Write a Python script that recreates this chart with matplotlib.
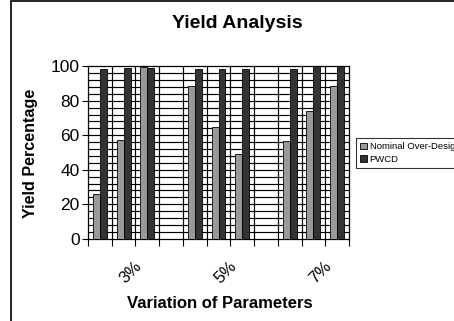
import numpy as np
import matplotlib
matplotlib.use("Agg")
import matplotlib.pyplot as plt
from matplotlib.patches import Rectangle
from matplotlib.transforms import ScaledTranslation

plt.rcParams['font.family'] = ['Liberation Sans', 'DejaVu Sans']

categories = ['', '3%', '', '', '', '5%', '', '', '', '7%', '']
nominal = [25.7, 57.1, 99.6, np.nan, 88.6, 64.6, 48.9, np.nan, 56.5, 73.9, 88.6]
pwcd = [98.3, 99.0, 99.0, np.nan, 98.5, 98.5, 98.3, np.nan, 98.5, 100.0, 100.0]
series_names = ['Nominal Over-Design', 'PWCD']

W, H = 454, 321
fig = plt.figure(figsize=(W / 100, H / 100), dpi=100)
ax = fig.add_axes([88 / W, 1 - 238.7 / H, (349 - 88) / W, (238.7 - 66.3) / H])

x = np.arange(len(categories))
bw = 0.295
ax.bar(x - bw / 2, nominal, bw, color='#999999', edgecolor='black', linewidth=0.6,
       label=series_names[0], zorder=3)
ax.bar(x + bw / 2, pwcd, bw, color='#333333', edgecolor='black', linewidth=0.6,
       label=series_names[1], zorder=3)

ax.set_xlim(-0.5, len(categories) - 0.5)
ax.set_ylim(0, 100)

# horizontal gridlines every 4
for yv in np.arange(4, 100, 4):
    ax.axhline(yv, color='black', linewidth=0.85, zorder=1)
# vertical gridlines at category boundaries
for xv in np.arange(0.5, len(categories) - 1, 1):
    ax.axvline(xv, color='black', linewidth=0.85, zorder=1)

ax.set_yticks(np.arange(0, 101, 20))
ax.set_xticks(np.arange(-0.5, len(categories), 1))
ax.set_xticklabels([])
ax.set_xticks(x, minor=True)
ax.set_xticklabels(categories, minor=True, rotation=45, fontsize=12, ha='center')
ax.tick_params(axis='x', which='minor', length=0, pad=14)
ax.tick_params(axis='x', which='major', length=5, width=0.8, direction='out')
ax.tick_params(axis='y', length=4, width=0.8, direction='out', labelsize=12.5, pad=2)
off = ScaledTranslation(7 / 100, 0, fig.dpi_scale_trans)
for lab in ax.get_xticklabels(minor=True):
    lab.set_transform(lab.get_transform() + off)
for s in ax.spines.values():
    s.set_linewidth(0.9)

fig.text(237 / W, 1 - 24 / H, 'Yield Analysis', ha='center', va='center',
         fontsize=14, fontweight='bold')
fig.text(220 / W, 1 - 303 / H, 'Variation of Parameters', ha='center', va='center',
         fontsize=12, fontweight='bold')
fig.text(30 / W, 1 - 153 / H, 'Yield Percentage', ha='center', va='center',
         rotation=90, fontsize=11.6, fontweight='bold')

leg = fig.legend(loc='upper left', bbox_to_anchor=(356 / W, 1 - 138 / H),
                 bbox_transform=fig.transFigure, fontsize=6.8, frameon=True,
                 fancybox=False, edgecolor='black', borderaxespad=0,
                 handlelength=0.7, handleheight=0.7, handletextpad=0.3,
                 borderpad=0.45, labelspacing=0.35)
leg.get_frame().set_linewidth(0.8)

# outer border of chart area (right and bottom cropped)
fig.patches.append(Rectangle((10.5 / W, -0.05), 1.2, 1.05 - 0.7 / H,
                             transform=fig.transFigure, fill=False,
                             edgecolor='black', linewidth=1.2))

fig.savefig('out.png', dpi=100)
